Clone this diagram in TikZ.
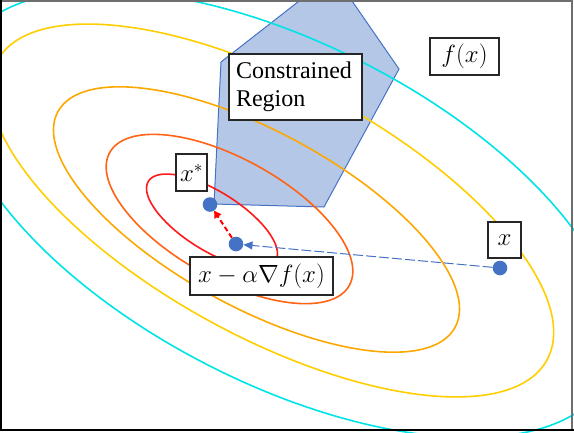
\documentclass[tikz,border=0pt]{standalone}
\usepackage{fontspec}
\setmainfont{Liberation Serif}
\usetikzlibrary{arrows.meta}
\definecolor{dotblue}{HTML}{4472C4}
\definecolor{regfill}{HTML}{B4C7E7}
\definecolor{cCyan}{RGB}{0,228,232}
\definecolor{cYellow}{RGB}{255,206,0}
\definecolor{cOrange}{RGB}{252,168,0}
\definecolor{cOrRed}{RGB}{255,100,20}
\definecolor{cRed}{RGB}{255,25,25}
\definecolor{frameGray}{RGB}{110,110,110}
\begin{document}
\begin{tikzpicture}[x=1pt,y=-1pt,
  contour/.style={line width=1.6pt},
  region/.style={fill=regfill, draw=dotblue, line width=1pt},
  dot/.style={circle, fill=dotblue, inner sep=0pt, minimum size=14.6pt},
  box/.style={draw=black!85, fill=white, line width=1.1pt, inner sep=0pt,
    font=\fontsize{24}{28.5}\selectfont},
  bluearrow/.style={dotblue, line width=1pt, dash pattern=on 10pt off 3pt,
    -{Triangle[length=9pt,width=8pt]}},
  redarrow/.style={red, line width=2pt, dash pattern=on 5pt off 3pt,
    -{Triangle[length=7pt,width=8pt]}}]
\useasboundingbox (0,0) rectangle (574,432);
\begin{scope}
  \clip (0,0) rectangle (574,432);
  \draw[region] (221,62) -- (303,-2) -- (350,-2) -- (399,69) -- (324,207) -- (214,204) -- cycle;
  \draw[contour, cCyan, rotate around={-27:(286,214)}] (286,214) ellipse [x radius=362pt, y radius=170pt];
  \draw[contour, cYellow, rotate around={-28.5:(272,210.5)}] (272,210.5) ellipse [x radius=313pt, y radius=127pt];
  \draw[contour, cOrange, rotate around={-28.5:(256.5,219.5)}] (256.5,219.5) ellipse [x radius=226pt, y radius=88pt];
  \draw[contour, cOrRed, rotate around={-29:(229.5,219)}] (229.5,219) ellipse [x radius=137pt, y radius=60pt];
  \draw[contour, cRed, rotate around={-32:(212,221)}] (212,221) ellipse [x radius=75pt, y radius=29.5pt];
\end{scope}
% frame
\draw[frameGray, line width=2pt] (0,1.2) -- (572,1.2) -- (572,431);
\draw[black, line width=2pt] (1,0) -- (1,430) -- (574,430);
% points
\node[dot] (xs) at (210,204.5) {};
\node[dot] (xm) at (236,244) {};
\node[dot] (x0) at (500,268) {};
\draw[bluearrow] (x0) -- (xm);
\draw[redarrow] (xm) -- (xs);
% labels
\node[box, text width=119pt, inner xsep=7pt, minimum height=66pt, align=left] (cr) at (295.5,87) {Constrained\\Region};
\node[box, minimum width=69pt, minimum height=37pt] (fx) at (464.5,56.5) {$f(x)$};
\node[box, minimum width=31pt, minimum height=37pt] (xsl) at (191.5,172.5) {$x^*$};
\node[box, minimum width=143pt, minimum height=38pt] (gl) at (261.5,276) {$x-\alpha\nabla f(x)$};
\node[box, minimum width=33pt, minimum height=36pt] (xl) at (504.5,240) {$x$};
\end{tikzpicture}
\end{document}
